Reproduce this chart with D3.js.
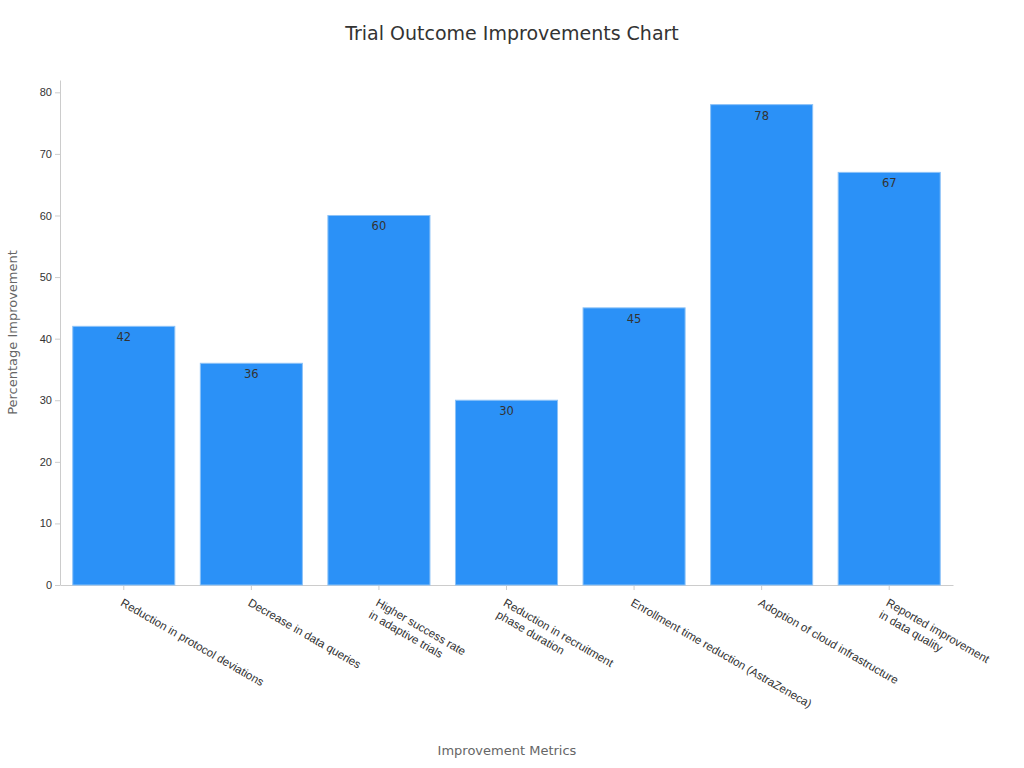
<!DOCTYPE html>
<html><head><meta charset="utf-8">
<script src="https://cdn.jsdelivr.net/npm/d3@7"></script>
<style>body{margin:0;background:#fff;font-family:"DejaVu Sans",sans-serif;}</style>
</head><body><div id="chart"></div>
<script>
const categories = [
  ["Reduction in protocol deviations"],
  ["Decrease in data queries"],
  ["Higher success rate", "in adaptive trials"],
  ["Reduction in recruitment", "phase duration"],
  ["Enrollment time reduction (AstraZeneca)"],
  ["Adoption of cloud infrastructure"],
  ["Reported improvement", "in data quality"]
];
const values = [42, 36, 60, 30, 45, 78, 67];
const yTicks = [0, 10, 20, 30, 40, 50, 60, 70, 80];

const width = 1024, height = 768;
const margin = {top: 80, right: 71, bottom: 183, left: 60};

const svg = d3.select("#chart").append("svg")
  .attr("width", width).attr("height", height);

const x = d3.scaleBand().domain(d3.range(values.length))
  .range([margin.left, width - margin.right]).paddingInner(0.2).paddingOuter(0.1);
const y = d3.scaleLinear().domain([0, 82]).range([height - margin.bottom, margin.top]);

// Titel
svg.append("text").attr("x", 512).attr("y", 40).attr("text-anchor", "middle")
  .attr("font-size", 19).attr("fill", "#333").text("Trial Outcome Improvements Chart");

// Achsen
const yAxis = svg.append("g").attr("transform", `translate(${margin.left},0)`)
  .call(d3.axisLeft(y).tickValues(yTicks).tickSize(5).tickSizeOuter(0));
yAxis.selectAll("text").attr("font-size", 11).attr("fill", "#333");

const xAxis = svg.append("g").attr("transform", `translate(0,${y(0)})`)
  .call(d3.axisBottom(x).tickSize(5).tickSizeOuter(0).tickFormat(""));
[yAxis, xAxis].forEach(g => {
  g.selectAll("path, line").attr("stroke", "#ccc");
  g.select(".domain").attr("stroke", "#ccc");
});
xAxis.selectAll(".tick").each(function(d) {
  const t = d3.select(this).append("text")
    .attr("transform", "translate(0,13) rotate(30)")
    .attr("text-anchor", "start").attr("font-size", 11.5).attr("fill", "#333");
  categories[d].forEach((line, i) => {
    t.append("tspan").attr("x", 0).attr("dy", i === 0 ? "0.7em" : "1.2em").text(line);
  });
});

// Balken
svg.selectAll("rect.bar").data(values).join("rect")
  .attr("class", "bar")
  .attr("x", (d, i) => x(i)).attr("width", x.bandwidth())
  .attr("y", d => y(d)).attr("height", d => y(0) - y(d))
  .attr("fill", "#2b91f7").attr("stroke", "#8cc2f7").attr("stroke-width", 1);

svg.selectAll("text.val").data(values).join("text")
  .attr("class", "val")
  .attr("x", (d, i) => x(i) + x.bandwidth() / 2).attr("y", d => y(d) + 15)
  .attr("text-anchor", "middle").attr("font-size", 11.5).attr("fill", "#333")
  .text(d => d);

// Achsentitel
svg.append("text").attr("transform", `translate(17,${(margin.top + y(0)) / 2}) rotate(-90)`)
  .attr("text-anchor", "middle").attr("font-size", 13).attr("fill", "#666")
  .text("Percentage Improvement");
svg.append("text").attr("x", 507).attr("y", 755).attr("text-anchor", "middle")
  .attr("font-size", 13).attr("fill", "#666").text("Improvement Metrics");
</script></body></html>
